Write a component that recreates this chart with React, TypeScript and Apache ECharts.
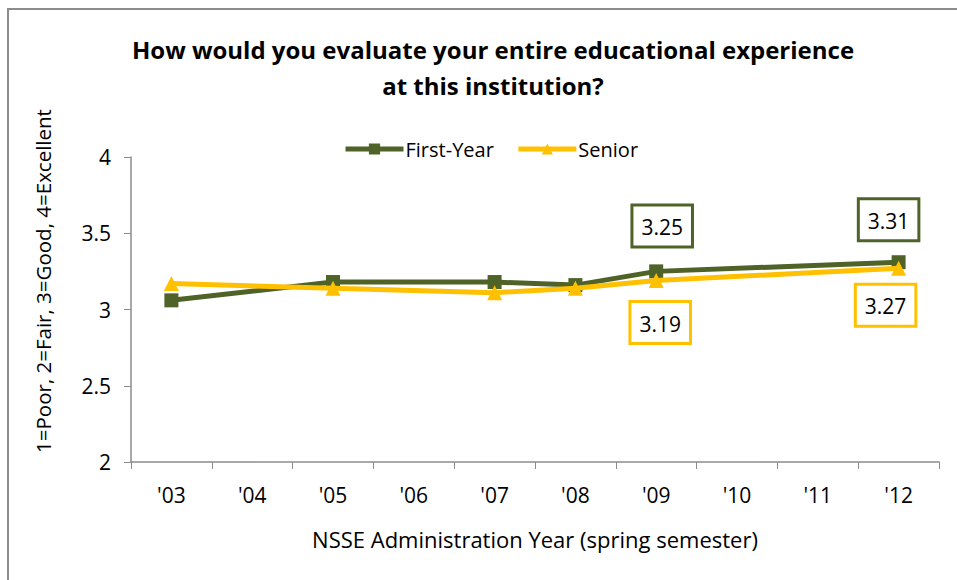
import React, { useEffect, useRef } from "react";
import * as echarts from "echarts";

const years = ["'03", "'04", "'05", "'06", "'07", "'08", "'09", "'10", "'11", "'12"];
const firstYear: (number | null)[] = [3.06, null, 3.18, null, 3.18, 3.16, 3.25, null, null, 3.31];
const senior: (number | null)[] = [3.17, null, 3.14, null, 3.11, 3.14, 3.19, null, null, 3.27];
const labeledIdx = [6, 9];
const yTicks = { min: 2, max: 4, interval: 0.5 };
const yAxisTitle = "1=Poor, 2=Fair, 3=Good, 4=Excellent";

const FONT = "'Open Sans', sans-serif";
const GREEN = "#4F6228";
const YELLOW = "#FFC000";

function withLabels(
  vals: (number | null)[],
  color: string,
  pos: "top" | "bottom",
  offsets: number[],
  dx: number[]
) {
  return vals.map((v, i) => {
    const k = labeledIdx.indexOf(i);
    if (v === null || k < 0) return v;
    return {
      value: v,
      label: {
        show: true,
        position: pos,
        distance: offsets[k],
        offset: [dx[k], 0],
        formatter: (p: any) => p.value.toFixed(2),
        fontFamily: FONT,
        fontSize: 21,
        color: "#000",
        backgroundColor: "#fff",
        borderColor: color,
        borderWidth: 3,
        padding: [10, 8, 8, 8],
      },
    };
  });
}

export default function App() {
  const ref = useRef<HTMLDivElement>(null);
  useEffect(() => {
    if (!ref.current) return;
    const chart = echarts.init(ref.current, null, { renderer: "svg" });
    chart.setOption({
      animation: false,
      backgroundColor: "#fff",
      textStyle: { fontFamily: FONT },
      graphic: [
        {
          type: "rect",
          shape: { x: 8, y: 9, width: 1000, height: 700 },
          style: { fill: "none", stroke: "#8c8c8c", lineWidth: 2 },
          silent: true,
        },
        {
          type: "text",
          x: 43,
          y: 281,
          rotation: Math.PI / 2,
          style: {
            text: yAxisTitle,
            fontFamily: FONT,
            fontSize: 20.5,
            fill: "#000",
            align: "center",
            verticalAlign: "middle",
          },
          silent: true,
        },
      ],
      title: {
        text: "How would you evaluate your entire educational experience\nat this institution?",
        left: 488,
        textAlign: "center",
        top: 26,
        textStyle: { fontFamily: FONT, fontSize: 24, fontWeight: "bold", color: "#000", lineHeight: 36 },
      },
      legend: {
        top: 134,
        left: 338,
        itemWidth: 58,
        itemHeight: 14,
        itemGap: 22,
        lineStyle: { width: 5 },
        textStyle: { fontFamily: FONT, fontSize: 20, color: "#000", padding: [0, 0, 0, -3] },
        data: ["First-Year", "Senior"],
      },
      grid: { left: 131, right: 18, top: 157, bottom: 118, containLabel: false },
      xAxis: {
        type: "category",
        data: years,
        boundaryGap: true,
        name: "NSSE Administration Year (spring semester)",
        nameLocation: "middle",
        nameGap: 66,
        nameTextStyle: { fontFamily: FONT, fontSize: 22, color: "#000" },
        axisLine: { lineStyle: { color: "#8c8c8c", width: 1.5 } },
        axisTick: { show: true, length: 7, lineStyle: { color: "#8c8c8c" } },
        axisLabel: { fontFamily: FONT, fontSize: 21, color: "#000", margin: 22 },
      },
      yAxis: {
        type: "value",
        min: yTicks.min,
        max: yTicks.max,
        interval: yTicks.interval,
        axisLine: { show: true, lineStyle: { color: "#8c8c8c", width: 1.5 } },
        axisTick: { show: true, length: 7, lineStyle: { color: "#8c8c8c" } },
        splitLine: { show: false },
        axisLabel: {
          fontFamily: FONT,
          fontSize: 21,
          color: "#000",
          margin: 20,
          formatter: (v: number) => String(v),
        },
      },
      series: [
        {
          name: "First-Year",
          type: "line",
          data: withLabels(firstYear, GREEN, "top", [19, 16], [6, -10]),
          connectNulls: true,
          symbol: "rect",
          symbolSize: 14,
          lineStyle: { color: GREEN, width: 5 },
          itemStyle: { color: GREEN },
          z: 2,
        },
        {
          name: "Senior",
          type: "line",
          data: withLabels(senior, YELLOW, "bottom", [15, 10], [4, -13]),
          connectNulls: true,
          symbol: "triangle",
          symbolSize: 15,
          lineStyle: { color: YELLOW, width: 5 },
          itemStyle: { color: YELLOW },
          z: 3,
        },
      ],
    });
    return () => chart.dispose();
  }, []);
  return (
    <div
      ref={ref}
      style={{ position: "fixed", left: 0, top: 0, width: 957, height: 580 }}
    />
  );
}
